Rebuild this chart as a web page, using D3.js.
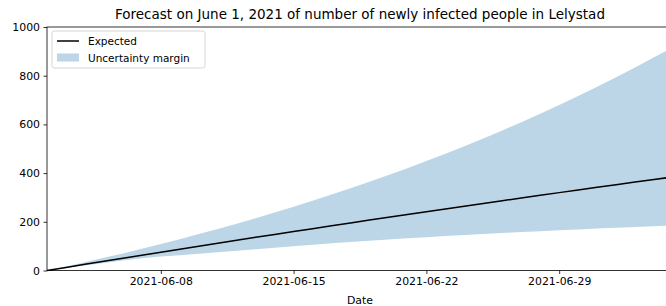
<!DOCTYPE html>
<html>
<head>
<meta charset="utf-8">
<script src="https://cdn.jsdelivr.net/npm/d3@7"></script>
<style>
  html, body { margin: 0; padding: 0; background: #fff; }
  svg { display: block; font-family: "DejaVu Sans", sans-serif; }
</style>
</head>
<body>
<svg id="chart" width="666" height="306"></svg>
<script>
// ---- data ----
const titleText = "Forecast on June 1, 2021 of number of newly infected people in Lelystad";
const startDate = "2021-06-02";
const endDate = "2021-07-05";
const expected = [0, 12.7, 25.3, 37.9, 50.4, 62.9, 75.2, 87.6, 99.8, 112.0, 124.1, 136.1, 148.1, 160.0,
  171.9, 183.6, 195.3, 207.0, 218.6, 230.1, 241.5, 252.9, 264.2, 275.5, 286.6, 297.8, 308.8,
  319.8, 330.7, 341.5, 352.3, 363.0, 373.7, 384.3];
const upper = [0, 16.8, 34.1, 52.0, 70.3, 89.2, 108.7, 128.7, 149.4, 170.6, 192.4, 214.9, 238.1, 261.9,
  286.5, 311.7, 337.7, 364.5, 392.1, 420.4, 449.6, 479.7, 510.7, 542.5, 575.3, 609.1, 643.8,
  679.6, 716.4, 754.4, 793.4, 833.6, 875.3, 917.5];
const lower = [0, 11, 21, 31, 41, 50, 57, 63, 69, 75, 81, 87.5, 93.8, 99.9,
  105.8, 111.4, 116.9, 122.2, 127.2, 132.1, 136.8, 141.4, 145.7, 150.0, 154.0, 157.9, 161.7,
  165.3, 168.8, 172.2, 175.5, 178.6, 181.6, 184.5];
const yTicks = [0, 200, 400, 600, 800, 1000];
const xTickLabels = ["2021-06-08", "2021-06-15", "2021-06-22", "2021-06-29"];
const legendLabels = ["Expected", "Uncertainty margin"];

// ---- layout ----
const W = 666, H = 306;
const m = { left: 47, top: 27, right: -7, bottom: 35.5 };
const iw = W - m.left - m.right, ih = H - m.top - m.bottom;
const parse = d3.timeParse("%Y-%m-%d");
const fmt = d3.timeFormat("%Y-%m-%d");
const start = parse(startDate);
const dates = expected.map((_, i) => d3.timeDay.offset(start, i));
const data = dates.map((d, i) => ({ date: d, e: expected[i], lo: lower[i], hi: upper[i] }));

const x = d3.scaleTime().domain([start, parse(endDate)]).range([0, iw]);
const y = d3.scaleLinear().domain([0, 1000]).range([ih, 0]);

const svg = d3.select("#chart");
const g = svg.append("g").attr("transform", `translate(${m.left},${m.top})`);

const bandColor = "#bcd6e8";

g.append("path").datum(data)
  .attr("fill", bandColor)
  .attr("d", d3.area().x(d => x(d.date)).y0(d => y(d.lo)).y1(d => y(d.hi)));

g.append("path").datum(data)
  .attr("fill", "none").attr("stroke", "#000").attr("stroke-width", 1.5)
  .attr("d", d3.line().x(d => x(d.date)).y(d => y(d.e)));

// axes
const xAxis = g.append("g").attr("transform", `translate(0,${ih})`)
  .call(d3.axisBottom(x).tickValues(xTickLabels.map(parse)).tickFormat(fmt).tickSize(3.5).tickPadding(3));
const yAxis = g.append("g")
  .call(d3.axisLeft(y).tickValues(yTicks).tickFormat(d3.format("d")).tickSize(3.5).tickPadding(3.5));
[xAxis, yAxis].forEach(a => {
  a.select(".domain").remove();
  a.selectAll(".tick line").attr("stroke", "#000").attr("stroke-width", 0.8);
  a.selectAll(".tick text").attr("fill", "#000").style("font-size", "10.9px").style("font-family", "DejaVu Sans");
});

// spines
g.append("rect").attr("x", 0).attr("y", 0).attr("width", iw).attr("height", ih)
  .attr("fill", "none").attr("stroke", "#000").attr("stroke-width", 0.8);

// title & label
svg.append("text").attr("x", m.left + iw / 2).attr("y", 18.5)
  .attr("text-anchor", "middle").style("font-size", "13.5px").attr("fill", "#000").text(titleText);
svg.append("text").attr("x", m.left + iw / 2).attr("y", 303.5)
  .attr("text-anchor", "middle").style("font-size", "10.9px").attr("fill", "#000").text("Date");

// legend
const lg = g.append("g").attr("transform", "translate(5,4)");
lg.append("rect").attr("x", 0).attr("y", 0).attr("width", 153).attr("height", 37).attr("rx", 2.5)
  .attr("fill", "#fff").attr("fill-opacity", 0.8).attr("stroke", "#ccc").attr("stroke-width", 0.8);
lg.append("line").attr("x1", 5).attr("x2", 27).attr("y1", 10).attr("y2", 10)
  .attr("stroke", "#000").attr("stroke-width", 1.5);
lg.append("rect").attr("x", 5).attr("y", 22.5).attr("width", 22).attr("height", 8).attr("fill", bandColor);
lg.selectAll("text.lbl").data(legendLabels).join("text").attr("class", "lbl")
  .attr("x", 36).attr("y", (d, i) => 13.5 + i * 17).style("font-size", "10.5px").attr("fill", "#000").text(d => d);
</script>
</body>
</html>
